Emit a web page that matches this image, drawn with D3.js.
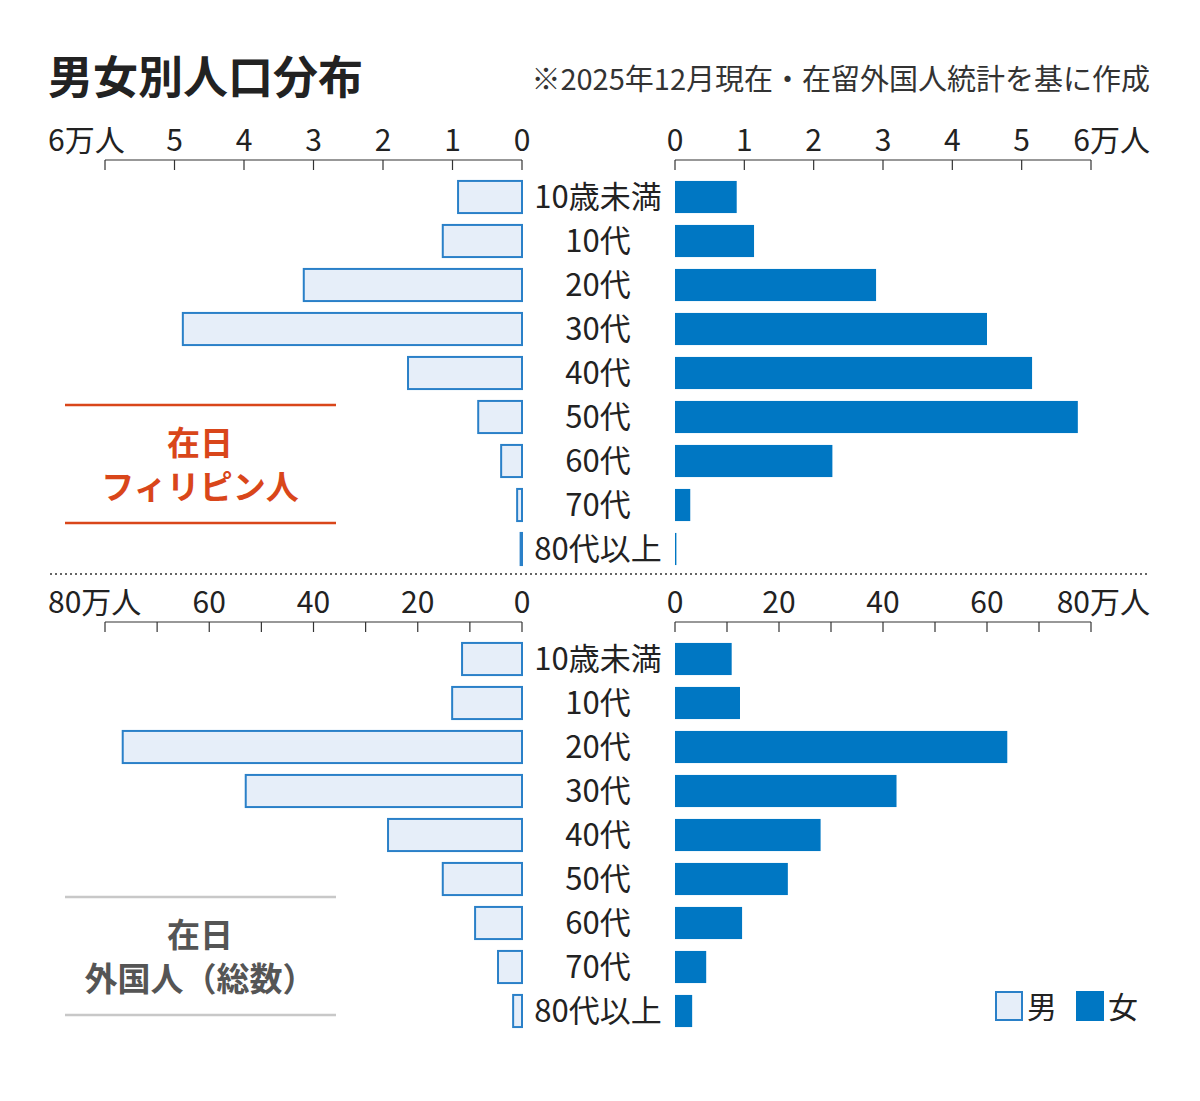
<!DOCTYPE html><html><head><meta charset="utf-8">
<script src="https://cdn.jsdelivr.net/npm/d3@7"></script>
<style>body{margin:0;background:#fff}text{font-family:"Noto Sans CJK JP",sans-serif}</style></head><body>
<svg id="c" width="1200" height="1101"></svg>
<script>
const ages=["10歳未満","10代","20代","30代","40代","50代","60代","70代","80代以上"];
const phMale=[0.92,1.14,3.14,4.88,1.64,0.63,0.30,0.07,0.02];
const phFemale=[0.89,1.14,2.90,4.50,5.15,5.81,2.27,0.22,0.02];
const allMale=[11.5,13.4,76.6,53.0,25.7,15.2,9.0,4.6,1.7];
const allFemale=[10.9,12.5,63.9,42.6,28.0,21.7,12.9,6.0,3.3];
const phTicks=[0,1,2,3,4,5,6];
const allTicks=[0,20,40,60,80];
const allMinor=[0,10,20,30,40,50,60,70,80];

const svg=d3.select("#c");
const blue="#0077c3",light="#e6eef9",stroke="#2a80c8";
svg.append("text").attr("x",48).attr("y",94).attr("font-size",45).attr("font-weight",700).attr("fill","#222").text("男女別人口分布");
svg.append("text").attr("x",1150).attr("y",90).attr("text-anchor","end").attr("font-size",29).attr("fill","#333").text("※2025年12月現在・在留外国人統計を基に作成");

function panel(top,male,female,max,ticks,minor,unit){
  const xl=d3.scaleLinear().domain([0,max]).range([522,105]);
  const xr=d3.scaleLinear().domain([0,max]).range([675,1091]);
  const y=d3.scaleBand().domain(ages).range([top+13,top+13+44*9]).paddingInner(0.27).paddingOuter(0.135);
  const ay=top-2;
  [[xl,105,522,true],[xr,675,1091,false]].forEach(([s,a,b,left])=>{
    const g=svg.append("g");
    g.append("line").attr("x1",a).attr("x2",b).attr("y1",ay).attr("y2",ay).attr("stroke","#333").attr("stroke-width",1.2);
    g.selectAll("l.m").data(minor).join("line").attr("x1",d=>s(d)).attr("x2",d=>s(d)).attr("y1",ay).attr("y2",ay+10).attr("stroke","#333").attr("stroke-width",1.2);
    g.selectAll("text").data(ticks).join("text")
      .attr("x",d=>d===max?(left?48:1150):s(d)).attr("y",ay-9)
      .attr("text-anchor",d=>d===max?(left?"start":"end"):"middle")
      .attr("font-size",30).attr("fill","#222").text(d=>d===max?d+unit:d);
  });
  svg.append("g").selectAll("rect").data(male).join("rect").attr("x",d=>xl(d)).attr("width",d=>Math.max(0.5,522-xl(d)))
    .attr("y",(d,i)=>y(ages[i])).attr("height",y.bandwidth()).attr("fill",light).attr("stroke",stroke).attr("stroke-width",2);
  svg.append("g").selectAll("rect").data(female).join("rect").attr("x",675).attr("width",d=>Math.max(1,xr(d)-675))
    .attr("y",(d,i)=>y(ages[i])).attr("height",y.bandwidth()).attr("fill",blue);
  svg.append("g").selectAll("text").data(ages).join("text").attr("x",598).attr("y",d=>y(d)+y.bandwidth()/2+11)
    .attr("text-anchor","middle").attr("font-size",31).attr("fill","#222").text(d=>d);
}
panel(162,phMale,phFemale,6,phTicks,phTicks,"万人");
panel(624,allMale,allFemale,80,allTicks,allMinor,"万人");

svg.append("line").attr("x1",50).attr("x2",1148).attr("y1",574).attr("y2",574).attr("stroke","#333").attr("stroke-width",1.5).attr("stroke-dasharray","2,3");
const red="#d9461a";
[405,523].forEach(v=>svg.append("line").attr("x1",65).attr("x2",336).attr("y1",v).attr("y2",v).attr("stroke",red).attr("stroke-width",2.5));
svg.append("text").attr("x",200).attr("y",455).attr("text-anchor","middle").attr("font-size",33).attr("font-weight",700).attr("fill",red).text("在日");
svg.append("text").attr("x",200).attr("y",499).attr("text-anchor","middle").attr("font-size",33).attr("font-weight",700).attr("fill",red).text("フィリピン人");
[897,1015].forEach(v=>svg.append("line").attr("x1",65).attr("x2",336).attr("y1",v).attr("y2",v).attr("stroke","#c8c8c8").attr("stroke-width",2.5));
svg.append("text").attr("x",200).attr("y",947).attr("text-anchor","middle").attr("font-size",33).attr("font-weight",700).attr("fill","#555").text("在日");
svg.append("text").attr("x",200).attr("y",991).attr("text-anchor","middle").attr("font-size",33).attr("font-weight",700).attr("fill","#555").text("外国人（総数）");

svg.append("rect").attr("x",996).attr("y",992).attr("width",26).attr("height",28).attr("fill",light).attr("stroke",stroke).attr("stroke-width",2);
svg.append("text").attr("x",1027).attr("y",1018).attr("font-size",30).attr("fill","#222").text("男");
svg.append("rect").attr("x",1076).attr("y",991).attr("width",28).attr("height",30).attr("fill",blue);
svg.append("text").attr("x",1108).attr("y",1018).attr("font-size",30).attr("fill","#222").text("女");
</script></body></html>
